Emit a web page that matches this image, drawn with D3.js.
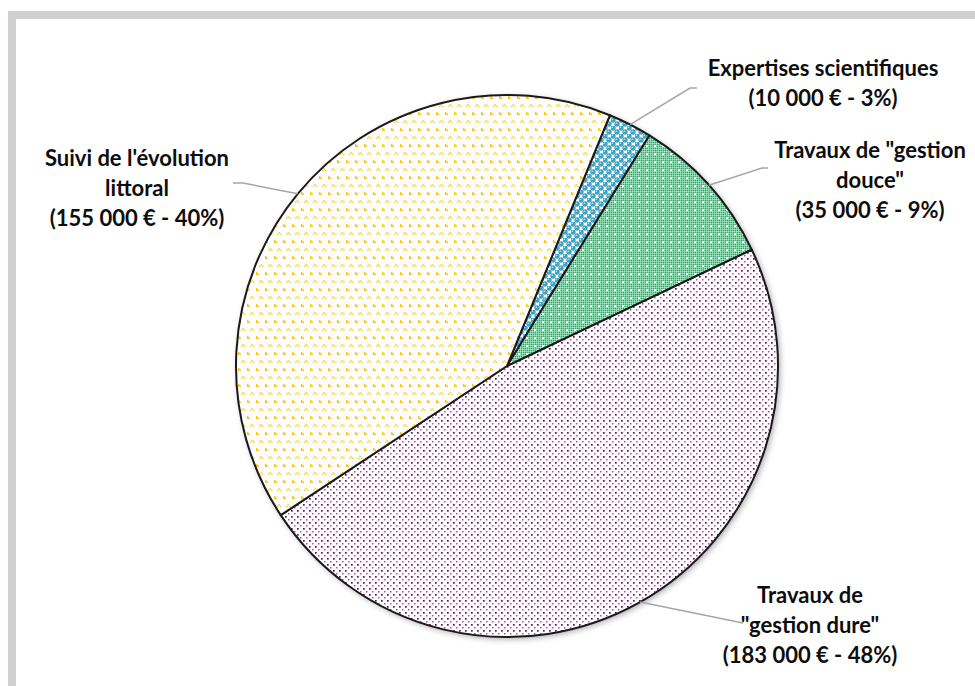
<!DOCTYPE html>
<html>
<head>
<meta charset="utf-8">
<script src="https://cdn.jsdelivr.net/npm/d3@7"></script>
<style>
  body { margin: 0; background: #fff; }
  #chart { width: 975px; height: 686px; }
  text { font-family: Lato, "Open Sans", sans-serif; font-weight: bold; }
</style>
</head>
<body>
<div id="chart"></div>
<script>
// budget split (€)
const categories = [
  "Expertises scientifiques",
  "Travaux de \"gestion douce\"",
  "Travaux de \"gestion dure\"",
  "Suivi de l'évolution littoral"
];
const amounts = [10000, 35000, 183000, 155000];
const labelLines = [
  ["Expertises scientifiques", "(10 000 € - 3%)"],
  ["Travaux de \"gestion", "douce\"", "(35 000 € - 9%)"],
  ["Travaux de", "\"gestion dure\"", "(183 000 € - 48%)"],
  ["Suivi de l'évolution", "littoral", "(155 000 € - 40%)"]
];

const width = 975;
const height = 686;
const cx = 507;
const cy = 366;
const radius = 271;
const startDeg = 22.3;

const svg = d3.select("#chart").append("svg")
  .attr("width", width)
  .attr("height", height);

// frame
svg.append("rect")
  .attr("x", 12).attr("y", 15)
  .attr("width", width + 20).attr("height", height + 20)
  .attr("fill", "none")
  .attr("stroke", "#d0cece")
  .attr("stroke-width", 8);

const defs = svg.append("defs");

// drop shadow for pie
const shadow = defs.append("filter").attr("id", "shadow")
  .attr("x", "-10%").attr("y", "-10%").attr("width", "120%").attr("height", "120%");
shadow.append("feGaussianBlur").attr("in", "SourceAlpha").attr("stdDeviation", 3);
shadow.append("feOffset").attr("dx", 2).attr("dy", 2).attr("result", "blur");
shadow.append("feComponentTransfer").append("feFuncA").attr("type", "linear").attr("slope", 0.35);
const merge = shadow.append("feMerge");
merge.append("feMergeNode");
merge.append("feMergeNode").attr("in", "SourceGraphic");

// patterns
function pattern(id, w, h) {
  return defs.append("pattern").attr("id", id)
    .attr("patternUnits", "userSpaceOnUse")
    .attr("width", w).attr("height", h);
}

// blue spheres
const pBlue = pattern("pBlue", 8, 8);
pBlue.append("rect").attr("width", 8).attr("height", 8).attr("fill", "#fff");
[[2, 2], [6, 6]].forEach(([x, y]) => {
  pBlue.append("circle").attr("cx", x).attr("cy", y).attr("r", 2.7).attr("fill", "#43a3c4");
  pBlue.append("circle").attr("cx", x - 0.7).attr("cy", y - 0.7).attr("r", 0.8).attr("fill", "#bfe3ef");
});
pBlue.append("circle").attr("cx", 6).attr("cy", -2).attr("r", 2.7).attr("fill", "#43a3c4");
pBlue.append("circle").attr("cx", -2).attr("cy", 6).attr("r", 2.7).attr("fill", "#43a3c4");

// green trellis
const pGreen = pattern("pGreen", 8, 8);
pGreen.append("rect").attr("width", 8).attr("height", 8).attr("fill", "#22ad62");
[1, 3, 5, 7].forEach(v => {
  pGreen.append("rect").attr("x", v).attr("y", 0).attr("width", 1).attr("height", 8)
    .attr("fill", "#fff").attr("opacity", 0.42);
  pGreen.append("rect").attr("x", 0).attr("y", v).attr("width", 8).attr("height", 1)
    .attr("fill", "#fff").attr("opacity", 0.42);
});
pGreen.append("rect").attr("x", 3).attr("y", 3).attr("width", 2).attr("height", 2).attr("fill", "#fff");

// purple dots
const pPurple = pattern("pPurple", 6, 6);
pPurple.append("rect").attr("width", 6).attr("height", 6).attr("fill", "#fff");
pPurple.append("rect").attr("x", 0).attr("y", 0).attr("width", 1.7).attr("height", 1.7).attr("fill", "#6a0d6a");
pPurple.append("rect").attr("x", 3).attr("y", 3).attr("width", 1.5).attr("height", 1.5).attr("fill", "#a258a2");

// yellow glyphs
const pYellow = pattern("pYellow", 9, 16);
pYellow.append("rect").attr("width", 9).attr("height", 16).attr("fill", "#fff");
pYellow.append("path").attr("d", "M1,2 h1.5 v1.5 h1.5 v1.5 h-3 z").attr("fill", "#f7c51e");
pYellow.append("path").attr("d", "M5.5,10 h1.5 v1.5 h-1.5 z M4,11.5 h1.5 v1.5 h-1.5 z M7,11.5 h1.5 v1.5 h-1.5 z").attr("fill", "#f9cf3a");

const fills = ["url(#pBlue)", "url(#pGreen)", "url(#pPurple)", "url(#pYellow)"];

const pie = d3.pie()
  .value(d => d)
  .sort(null)
  .startAngle(startDeg * Math.PI / 180)
  .endAngle(startDeg * Math.PI / 180 + 2 * Math.PI);

const arcs = pie(amounts);
const arc = d3.arc().innerRadius(0).outerRadius(radius);

const g = svg.append("g").attr("transform", `translate(${cx},${cy})`);

g.append("circle").attr("r", radius).attr("fill", "#fff").attr("filter", "url(#shadow)");

g.selectAll("path.slice")
  .data(arcs)
  .join("path")
  .attr("class", "slice")
  .attr("d", arc)
  .attr("fill", (d, i) => fills[i])
  .attr("stroke", "#1a1a1a")
  .attr("stroke-width", 2)
  .attr("stroke-linejoin", "round");

// labels and leader lines
const labelPos = [
  { x: 823, y: 76, bend: [690, 88], end: [697, 88] },
  { x: 870, y: 158, bend: [762, 168], end: [768, 168] },
  { x: 810, y: 603, bend: [743, 623], end: [743, 623] },
  { x: 137, y: 166, bend: [243, 183], end: [233, 183] }
];

const lineGap = 30;

arcs.forEach((d, i) => {
  const mid = (d.startAngle + d.endAngle) / 2;
  const px = cx + radius * Math.sin(mid);
  const py = cy - radius * Math.cos(mid);
  const lp = labelPos[i];
  svg.append("polyline")
    .attr("points", [[px, py], lp.bend, lp.end].map(p => p.join(",")).join(" "))
    .attr("fill", "none")
    .attr("stroke", "#a6a6a6")
    .attr("stroke-width", 1.5);

  const t = svg.append("text")
    .attr("text-anchor", "middle")
    .attr("font-size", 22)
    .attr("fill", "#0d0d0d");
  labelLines[i].forEach((line, j) => {
    t.append("tspan")
      .attr("x", lp.x)
      .attr("y", lp.y + j * lineGap)
      .text(line);
  });
});
</script>
</body>
</html>
